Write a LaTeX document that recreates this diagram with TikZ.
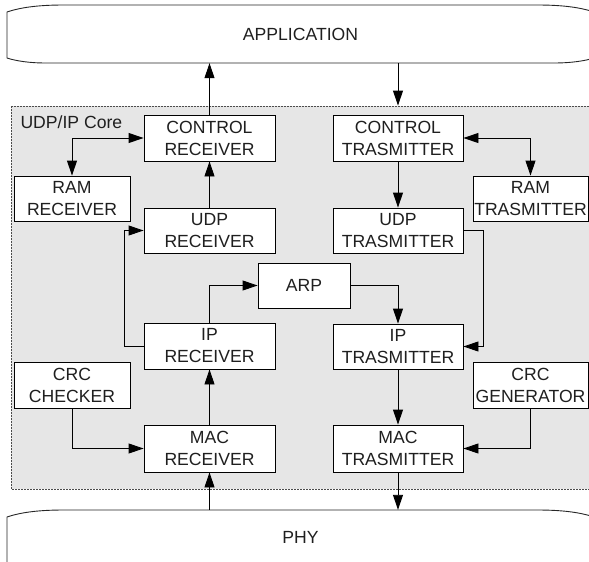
\documentclass[tikz,border=0pt]{standalone}
\usepackage{fontspec}
\setmainfont{Liberation Sans}
\usetikzlibrary{arrows.meta}
\definecolor{corefill}{HTML}{E6E6E6}
\newcommand\lbl{\fontsize{17.6}{22}\selectfont}
\begin{document}
\begin{tikzpicture}[x=1pt,y=-1pt,
  blk/.style={draw=black, fill=white, line width=0.9pt, minimum width=131pt,
    minimum height=46pt, inner sep=0pt, align=center, font=\lbl, text=black!88},
  side/.style={blk, minimum width=116pt, minimum height=45pt},
  bus/.style={draw=none, inner sep=0pt, minimum width=587pt, font=\lbl, text=black!88},
  arr/.style={line width=0.9pt, -{Triangle[length=15pt,width=10pt]}},
  biarr/.style={line width=0.9pt, {Triangle[length=15pt,width=10pt]}-{Triangle[length=15pt,width=10pt]}}]
\useasboundingbox (0,0) rectangle (589,562);

% core area
\draw[fill=corefill, draw=gray!60!black, dash pattern=on 2pt off 1pt, line width=0.8pt]
  (11,106) rectangle (592,489);
\node[anchor=base west, font=\lbl, text=black!88] (corelbl) at (17,128) {UDP/IP Core};

% application and physical layer outlines
\draw[line width=0.9pt, draw=black!85]
  (7,58) -- (7,12) .. controls (22,7) and (40,5) .. (64,5) -- (537,5)
  .. controls (561,5) and (579,7) .. (594,12) -- (594,58)
  .. controls (585,61) and (570,63) .. (555,63) -- (45,63)
  .. controls (30,63) and (16,61) .. (7,58) -- cycle;
\draw[line width=0.9pt, draw=black!85]
  (7,566) -- (7,517) .. controls (22,512) and (40,510) .. (64,510) -- (537,510)
  .. controls (561,510) and (579,512) .. (594,517) -- (594,566);
\node[bus, minimum height=58pt] (app) at (300.5,34) {APPLICATION};
\node[bus, minimum height=54pt] (phy) at (300.5,537) {PHY};

% blocks
\node[blk] (crx) at (209.5,138) {CONTROL\\RECEIVER};
\node[side] (ramrx) at (72,198.5) {RAM\\RECEIVER};
\node[blk, minimum height=45pt] (udprx) at (209.5,230.5) {UDP\\RECEIVER};
\node[blk, minimum width=92pt, minimum height=45pt] (arp) at (304,285.5) {ARP};
\node[blk] (iprx) at (209.5,346) {IP\\RECEIVER};
\node[side, minimum height=46pt] (crcchk) at (72,385) {CRC\\CHECKER};
\node[blk, minimum height=47pt] (macrx) at (209.5,448.5) {MAC\\RECEIVER};

\node[blk, minimum width=130pt] (ctx) at (398,138) {CONTROL\\TRASMITTER};
\node[side, minimum width=115pt] (ramtx) at (530.5,198.5) {RAM\\TRASMITTER};
\node[blk, minimum width=130pt, minimum height=45pt] (udptx) at (398,230.5) {UDP\\TRASMITTER};
\node[blk, minimum width=130pt, minimum height=45pt] (iptx) at (398,346.5) {IP\\TRASMITTER};
\node[side, minimum width=115pt, minimum height=46pt] (crcgen) at (530.5,385) {CRC\\GENERATOR};
\node[blk, minimum width=130pt, minimum height=47pt] (mactx) at (398,448.5) {MAC\\TRASMITTER};

% receive path
\draw[arr] (phy.north -| macrx.south) -- (macrx.south);
\draw[arr] (macrx.north) -- (iprx.south);
\draw[arr] (crcchk.south) |- (macrx.west);
\draw[arr] (iprx.west) -- ++(-19,0) |- (udprx.west);
\draw[arr] (iprx.north) |- (arp.west);
\draw[arr] (udprx.north) -- (crx.south);
\draw[biarr] (ramrx.north) |- (crx.west);
\draw[arr] (crx.north) -- (crx.north |- app.south);

% transmit path
\draw[arr, shorten >=9pt] (app.south -| ctx.north) -- (ctx.north);
\draw[biarr] (ctx.east) -| (ramtx.north);
\draw[arr] (ctx.south) -- (udptx.north);
\draw[arr] (udptx.east) -- ++(20,0) |- (iptx.east);
\draw[arr] (arp.east) -| (iptx.north);
\draw[arr] (iptx.south) -- (mactx.north);
\draw[arr] (crcgen.south) |- (mactx.east);
\draw[arr] (mactx.south) -- (mactx.south |- phy.north);
\end{tikzpicture}
\end{document}
